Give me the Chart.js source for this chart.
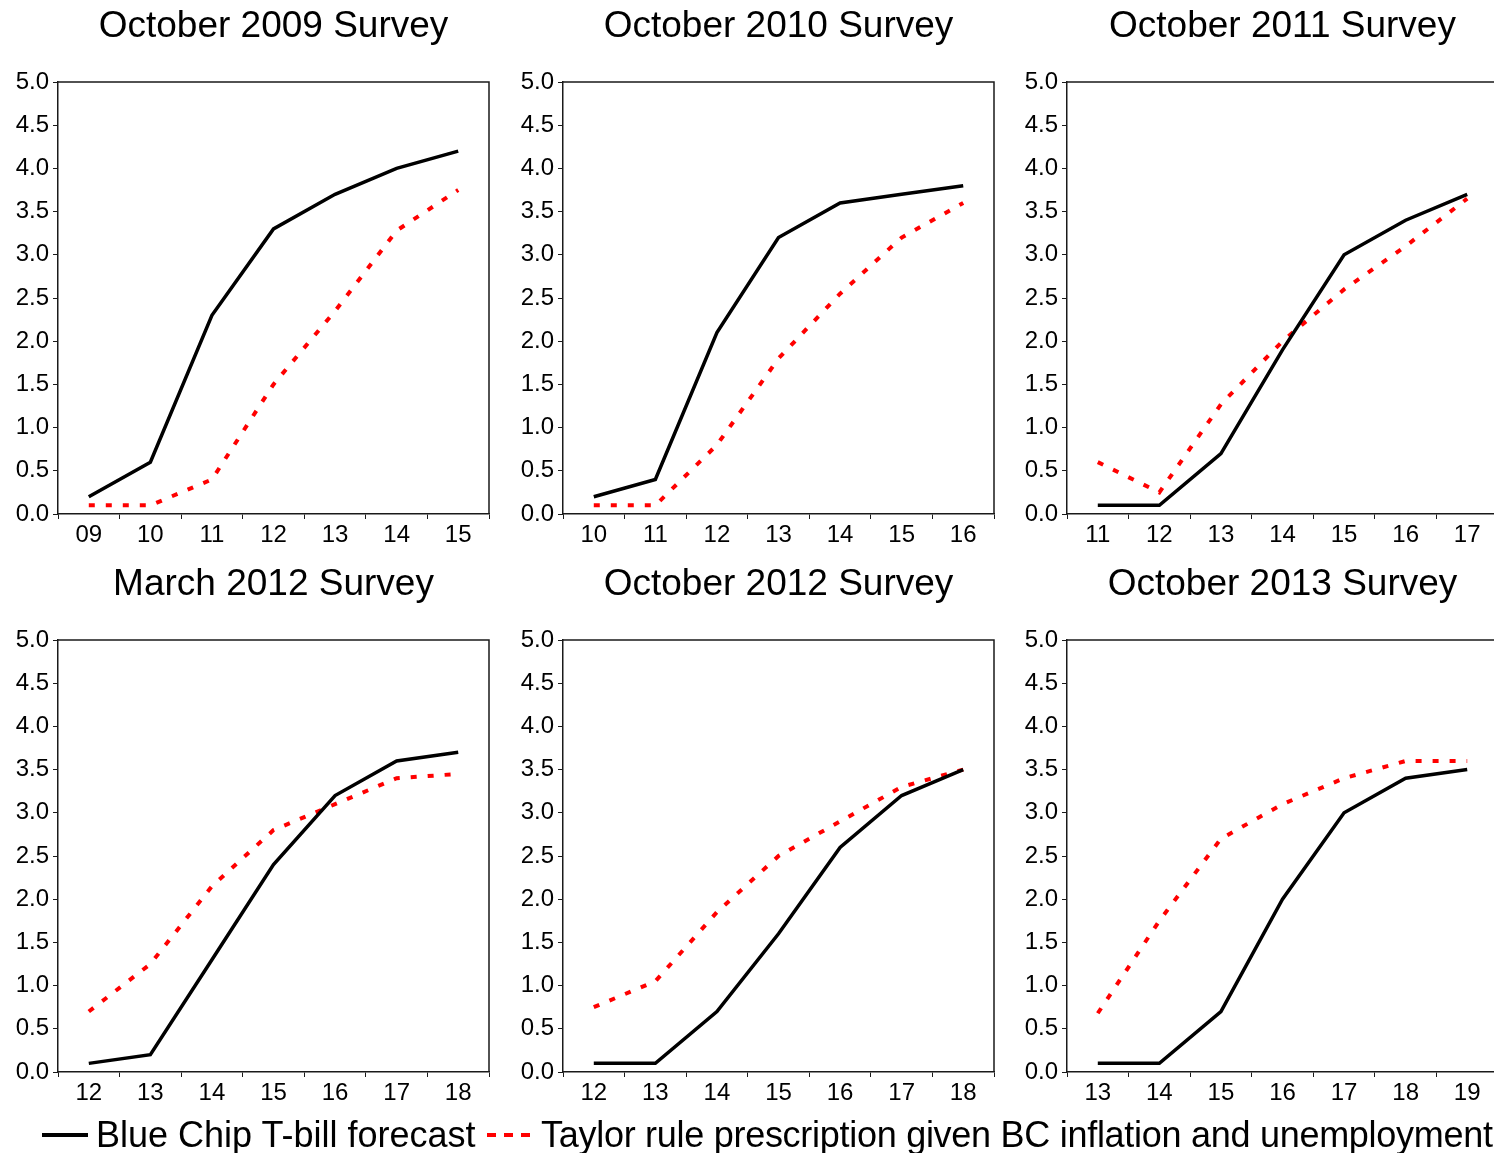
<!DOCTYPE html>
<html>
<head>
<meta charset="utf-8">
<script src="https://cdn.jsdelivr.net/npm/chart.js@4.4.1/dist/chart.umd.min.js"></script>
<style>
  html, body { margin: 0; padding: 0; background: #fff; }
  body { position: relative; width: 1494px; height: 1153px; overflow: hidden; font-family: "Liberation Sans", Arial, sans-serif; }
  canvas { position: absolute; }
  .legend-text { position: absolute; top: 1116px; font-size: 36px; line-height: 38px; color: #000; white-space: nowrap; }
  .legend-line { position: absolute; top: 1133px; height: 4px; }
</style>
</head>
<body>
<canvas id="c0" width="505" height="558" style="left:0px;top:0px"></canvas>
<canvas id="c1" width="505" height="558" style="left:505px;top:0px"></canvas>
<canvas id="c2" width="505" height="558" style="left:1009px;top:0px"></canvas>
<canvas id="c3" width="505" height="558" style="left:0px;top:558px"></canvas>
<canvas id="c4" width="505" height="558" style="left:505px;top:558px"></canvas>
<canvas id="c5" width="505" height="558" style="left:1009px;top:558px"></canvas>

<div class="legend-line" style="left:42px;width:46px;background:#000"></div>
<div class="legend-text" style="left:96px">Blue Chip T-bill forecast</div>
<div class="legend-line" style="left:487px;width:44px;background:repeating-linear-gradient(to right,#ff0000 0px,#ff0000 9px,transparent 9px,transparent 17px)"></div>
<div class="legend-text" style="left:541px;letter-spacing:-0.28px">Taylor rule prescription given BC inflation and unemployment</div>

<script>
// Survey titles
const titles = [
  'October 2009 Survey', 'October 2010 Survey', 'October 2011 Survey',
  'March 2012 Survey', 'October 2012 Survey', 'October 2013 Survey'
];

// Forecast years (two-digit) for each survey
const yearsOct2009 = ['09', '10', '11', '12', '13', '14', '15'];
const yearsOct2010 = ['10', '11', '12', '13', '14', '15', '16'];
const yearsOct2011 = ['11', '12', '13', '14', '15', '16', '17'];
const yearsMar2012 = ['12', '13', '14', '15', '16', '17', '18'];
const yearsOct2012 = ['12', '13', '14', '15', '16', '17', '18'];
const yearsOct2013 = ['13', '14', '15', '16', '17', '18', '19'];

// Blue Chip T-bill forecast (percent)
const blueChipOct2009 = [0.2, 0.6, 2.3, 3.3, 3.7, 4.0, 4.2];
const blueChipOct2010 = [0.2, 0.4, 2.1, 3.2, 3.6, 3.7, 3.8];
const blueChipOct2011 = [0.1, 0.1, 0.7, 1.9, 3.0, 3.4, 3.7];
const blueChipMar2012 = [0.1, 0.2, 1.3, 2.4, 3.2, 3.6, 3.7];
const blueChipOct2012 = [0.1, 0.1, 0.7, 1.6, 2.6, 3.2, 3.5];
const blueChipOct2013 = [0.1, 0.1, 0.7, 2.0, 3.0, 3.4, 3.5];

// Taylor rule prescription given BC inflation and unemployment (percent)
const taylorOct2009 = [0.1, 0.1, 0.4, 1.5, 2.35, 3.28, 3.75];
const taylorOct2010 = [0.1, 0.1, 0.8, 1.8, 2.55, 3.2, 3.6];
const taylorOct2011 = [0.6, 0.25, 1.27, 2.0, 2.6, 3.1, 3.65];
const taylorMar2012 = [0.7, 1.25, 2.15, 2.8, 3.1, 3.4, 3.45];
const taylorOct2012 = [0.75, 1.05, 1.85, 2.5, 2.9, 3.3, 3.5];
const taylorOct2013 = [0.68, 1.75, 2.7, 3.1, 3.4, 3.6, 3.6];

// Y axis range and tick step
const yMin = 0.0;
const yMax = 5.0;
const yStep = 0.5;

const panels = [
  [titles[0], yearsOct2009, blueChipOct2009, taylorOct2009],
  [titles[1], yearsOct2010, blueChipOct2010, taylorOct2010],
  [titles[2], yearsOct2011, blueChipOct2011, taylorOct2011],
  [titles[3], yearsMar2012, blueChipMar2012, taylorMar2012],
  [titles[4], yearsOct2012, blueChipOct2012, taylorOct2012],
  [titles[5], yearsOct2013, blueChipOct2013, taylorOct2013]
];

const FONT = '"Liberation Sans", Arial, sans-serif';
const AXIS_COLOR = '#1a1a1a';

// Closed box around each plot area (top and right edges)
const framePlugin = {
  id: 'plotFrame',
  afterDatasetsDraw(chart) {
    const a = chart.chartArea;
    const ctx = chart.ctx;
    ctx.save();
    ctx.strokeStyle = AXIS_COLOR;
    ctx.lineWidth = 1.5;
    ctx.beginPath();
    ctx.moveTo(a.left, a.top);
    ctx.lineTo(a.right, a.top);
    ctx.lineTo(a.right, a.bottom);
    ctx.stroke();
    ctx.restore();
  }
};

// White canvas background
const bgPlugin = {
  id: 'whiteBg',
  beforeDraw(chart) {
    const ctx = chart.ctx;
    ctx.save();
    ctx.fillStyle = '#fff';
    ctx.fillRect(0, 0, chart.width, chart.height);
    ctx.restore();
  }
};

function makePanel(id, title, years, blueChip, taylor) {
  return new Chart(document.getElementById(id), {
    type: 'line',
    data: {
      labels: years,
      datasets: [
        {
          label: 'Blue Chip T-bill forecast',
          data: blueChip,
          borderColor: '#000000',
          borderWidth: 3.5,
          pointRadius: 0,
          tension: 0,
          fill: false
        },
        {
          label: 'Taylor rule prescription given BC inflation and unemployment',
          data: taylor,
          borderColor: '#ff0000',
          borderWidth: 4,
          borderDash: [6, 11],
          borderCapStyle: 'butt',
          pointRadius: 0,
          tension: 0,
          fill: false
        }
      ]
    },
    options: {
      responsive: false,
      animation: false,
      events: [],
      layout: { padding: { left: 0, right: 16, top: 0, bottom: 0 }, autoPadding: false },
      plugins: {
        legend: { display: false },
        tooltip: { enabled: false },
        title: {
          display: true,
          fullSize: false,
          text: title,
          color: '#000',
          font: { family: FONT, size: 37, weight: 'normal', lineHeight: 1.2 },
          padding: { top: 5, bottom: 32.6 }
        }
      },
      scales: {
        x: {
          offset: true,
          grid: { offset: true, drawOnChartArea: false, drawTicks: true, tickLength: 5, color: AXIS_COLOR, lineWidth: 1 },
          border: { display: true, color: AXIS_COLOR, width: 1.5 },
          ticks: { color: '#000', font: { family: FONT, size: 24 }, padding: 2, maxRotation: 0, autoSkip: false },
          afterFit(scale) { scale.height = 44; }
        },
        y: {
          min: yMin,
          max: yMax,
          grid: { drawOnChartArea: false, drawTicks: true, tickLength: 5, color: AXIS_COLOR, lineWidth: 1 },
          border: { display: true, color: AXIS_COLOR, width: 1.5 },
          ticks: {
            stepSize: yStep,
            color: '#000',
            font: { family: FONT, size: 24 },
            padding: 4,
            callback: (v) => Number(v).toFixed(1)
          },
          afterFit(scale) { scale.width = 58; }
        }
      }
    },
    plugins: [bgPlugin, framePlugin]
  });
}

panels.forEach((p, i) => makePanel('c' + i, p[0], p[1], p[2], p[3]));
</script>
</body>
</html>
